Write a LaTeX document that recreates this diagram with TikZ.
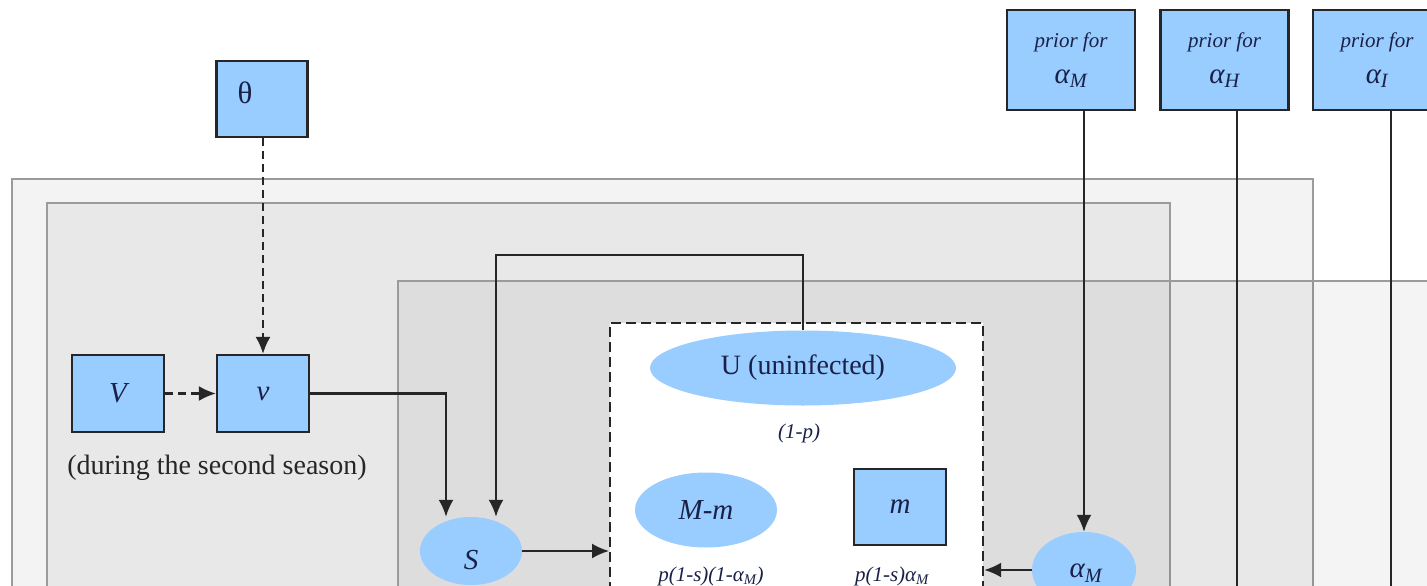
\documentclass[tikz,border=0pt]{standalone}
\usepackage{fontspec}
\setmainfont{Liberation Serif}
\usetikzlibrary{arrows.meta,shapes.geometric}
\definecolor{nodeblue}{RGB}{153,204,255}
\definecolor{ink}{RGB}{25,33,72}
\definecolor{panelline}{RGB}{155,155,155}
\definecolor{panelA}{RGB}{243,243,243}
\definecolor{panelB}{RGB}{232,232,232}
\newcommand{\bigtxt}{\fontsize{28}{32}\selectfont}
\newcommand{\vartxt}{\fontsize{29}{32}\selectfont\itshape}
\newcommand{\smalltxt}{\fontsize{21}{24}\selectfont\itshape}
\newcommand{\alphasub}[1]{α\textsubscript{#1}}
\begin{document}
\begin{tikzpicture}[x=1pt,y=-1pt,
  panel/.style={draw=panelline,line width=1.6pt},
  boxnode/.style={rectangle,draw=black!85,line width=2.2pt,fill=nodeblue,
    inner sep=0pt,text=ink,font=\vartxt},
  ellnode/.style={ellipse,fill=nodeblue,inner sep=0pt,text=ink,font=\vartxt},
  txt/.style={inner sep=0pt,text=ink},
  link/.style={line width=2.2pt,draw=black!85},
  arr/.style={-{Latex[length=17pt,width=15pt]}},
  dashlink/.style={dash pattern=on 8pt off 5pt},
  priorbox/.style={boxnode,minimum width=128pt,minimum height=100pt,align=center}
]
\useasboundingbox (0,0) rectangle (1427,586);
\clip (0,0) rectangle (1427,586);

% nested plates
\draw[panel,fill=panelA] (12,179) rectangle (1313,620);
\draw[panel,fill=panelB] (47,203) rectangle (1170,620);
\draw[panel,fill=black,fill opacity=0.045] (398,281) rectangle (1460,620);

% region holding the infection outcomes
\node[rectangle,draw=black!85,line width=2.2pt,dash pattern=on 10pt off 5pt,
  fill=white,minimum width=373pt,minimum height=300pt,anchor=north west,
  inner sep=0pt] (dbox) at (609,322) {};

% priors
\node[priorbox] (prior1) at (1071,60)
  {{\smalltxt prior for}\\[4pt]{\vartxt\alphasub{M}}};
\node[priorbox] (prior2) at (1224.5,60)
  {{\smalltxt prior for}\\[4pt]{\vartxt\alphasub{H}}};
\node[priorbox] (prior3) at (1377,60)
  {{\smalltxt prior for}\\[4pt]{\vartxt\alphasub{I}}};

% vaccination part
\node[boxnode,minimum width=91pt,minimum height=76pt] (theta) at (262,99) {};
\node[txt,font=\fontsize{31}{34}\selectfont] (thetatxt) at (245,93) {θ};
\node[boxnode,minimum width=92pt,minimum height=77pt] (V) at (118,393.5) {V};
\node[boxnode,minimum width=92pt,minimum height=77pt] (v) at (263,393.5) {v};
\node[txt,text=black!85,font=\bigtxt] (season) at (217,468) {(during the second season)};

% states
\node[ellnode,minimum width=102pt,minimum height=68pt] (S) at (471,551) {};
\node[txt,font=\vartxt] (Stxt) at (471,560) {S};
\node[ellnode,minimum width=306pt,minimum height=75pt,font=\bigtxt] (U) at (803,368) {U (uninfected)};
\node[txt,font=\smalltxt] (pU) at (799,433) {(1-p)};
\node[ellnode,minimum width=142pt,minimum height=75pt] (Mm) at (706,510) {M-m};
\node[txt,font=\smalltxt] (pMm) at (711,576) {p(1-s)(1-\alphasub{M})};
\node[boxnode,minimum width=92pt,minimum height=76pt] (m) at (900,507) {m};
\node[txt,font=\smalltxt] (pm) at (892,576) {p(1-s)\alphasub{M}};
\node[ellnode,minimum width=104pt,minimum height=76pt] (aM) at (1084,570) {};
\node[txt,font=\vartxt] (aMtxt) at (1086,573) {\alphasub{M}};

% free ends and turning points
\coordinate (topY) at (0,255);
\coordinate (endH) at (1237,600);
\coordinate (endI) at (1391,600);

% connectors
\draw[link,dashlink,arr] (theta.south -| v.north) -- (v.north);
\draw[link,dashlink,arr] (V.east) -- (v.west);
\draw[link,arr] (v.east) -| ([xshift=-25pt]S.north);
\draw[link,arr] (U.north) -- (U.north |- topY) -| ([xshift=25pt]S.north);
\draw[link,arr] (S.east) -- (S.east -| dbox.west);
\draw[link,arr] (aM.west) -- (aM.west -| dbox.east);
\draw[link,arr] (prior1.south -| aM.north) -- (aM.north);
\draw[link] (prior2.south -| endH) -- (endH);
\draw[link] (prior3.south -| endI) -- (endI);
\end{tikzpicture}
\end{document}
